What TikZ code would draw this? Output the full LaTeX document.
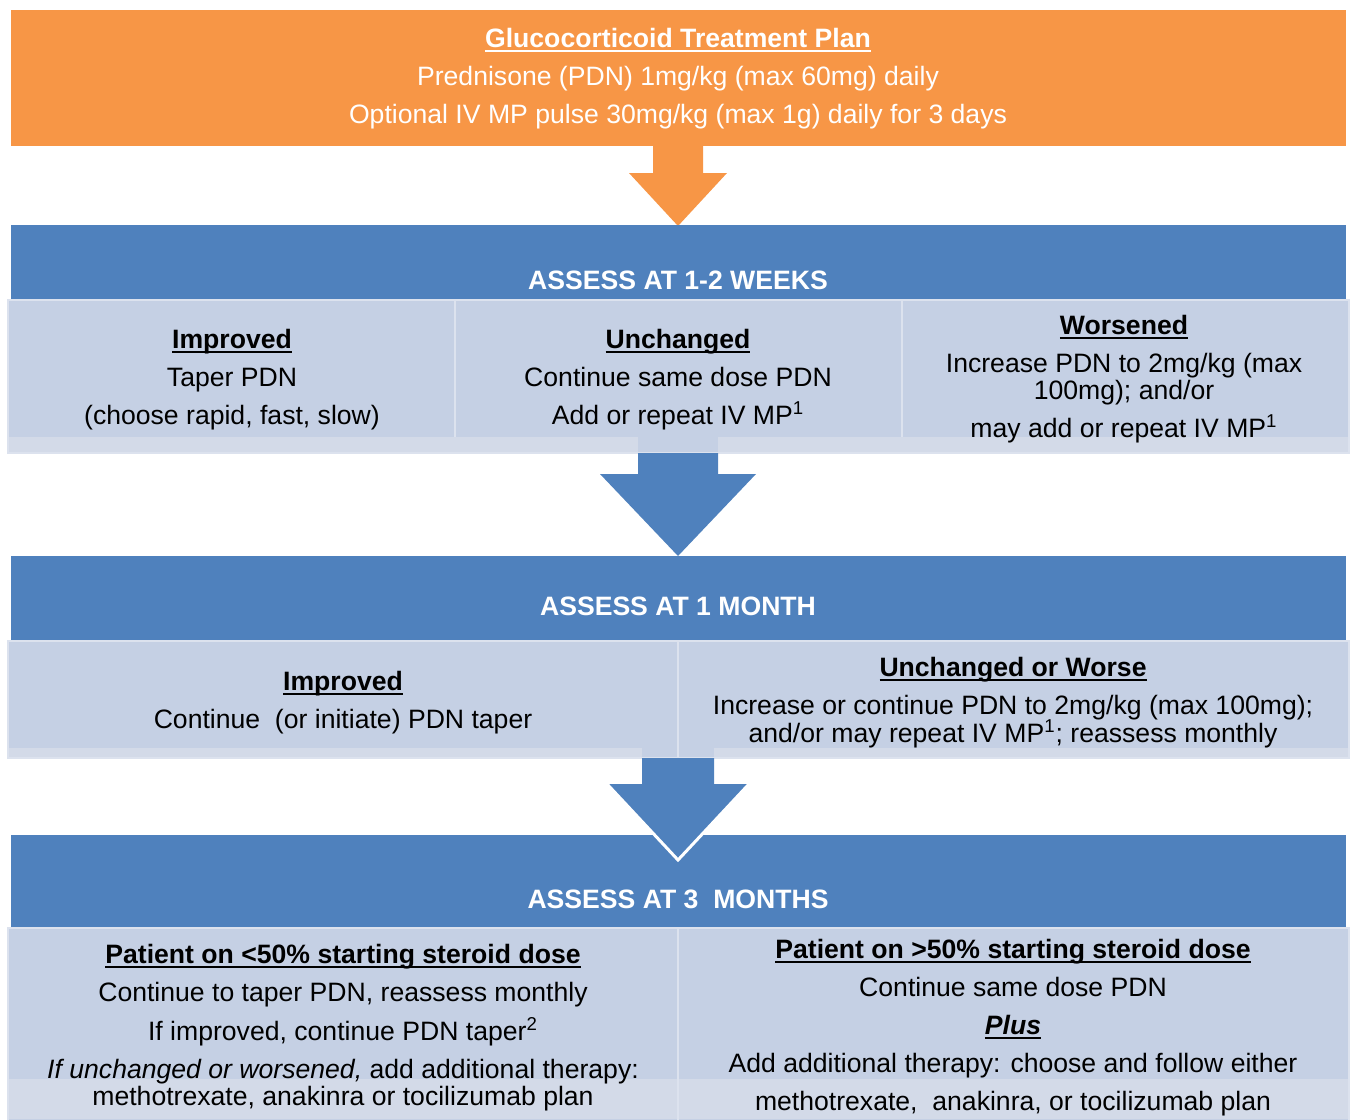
\documentclass[tikz,border=0pt]{standalone}
\usepackage{fontspec}
\setmainfont{Liberation Sans}

\definecolor{planorange}{HTML}{F79646}
\definecolor{bandblue}{HTML}{4F81BD}
\definecolor{cellblue}{HTML}{C5D0E4}
\definecolor{stripblue}{HTML}{D3DAE8}
\definecolor{cellline}{HTML}{DCE2EE}

\newcommand\cellfont{\fontsize{13.3pt}{19pt}\selectfont}
\newsavebox\headbox
\newcommand\ulhead[1]{\sbox\headbox{\textbf{#1}}\rlap{\rule[-2.2pt]{\wd\headbox}{0.9pt}}\usebox\headbox}

\tikzset{
  band/.style={fill=bandblue},
  cellbox/.style={fill=cellblue, draw=cellline, line width=0.75pt},
  strip/.style={fill=stripblue},
  celltext/.style={anchor=north, inner sep=0pt, align=center, font=\cellfont},
  bandtext/.style={inner sep=0pt, text=white, font=\bfseries\cellfont},
}

\begin{document}
\begin{tikzpicture}[x=0.5pt, y=-0.5pt]
\useasboundingbox (0,0) rectangle (1352,1119);

% treatment plan
\fill[planorange] (11,10) rectangle (1346,146);
\node[celltext, text=white] (plan) at (678,28) {\ulhead{Glucocorticoid Treatment Plan}\\
  Prednisone (PDN) 1mg/kg (max 60mg) daily\\
  Optional IV MP pulse 30mg/kg (max 1g) daily for 3 days};
\fill[planorange] (653,146) -- (703,146) -- (703,173) -- (727,173) -- (678,226) -- (629,173) -- (653,173) -- cycle;

% 1-2 weeks
\fill[band] (11,225) rectangle (1346,300);
\node[bandtext] (weeks) at (678,280) {ASSESS AT 1-2 WEEKS};
\draw[cellbox] (8,300) rectangle (455,453);
\draw[cellbox] (455,300) rectangle (902,453);
\draw[cellbox] (902,300) rectangle (1349,453);
\fill[strip] (9,437) rectangle (638,452);
\fill[strip] (718,437) rectangle (1348,452);
\node[celltext] (wkimp) at (232,329) {\ulhead{Improved}\\ Taper PDN\\ (choose rapid, fast, slow)};
\node[celltext] (wkunch) at (678,329) {\ulhead{Unchanged}\\ Continue same dose PDN\\ Add or repeat IV MP\textsuperscript{1}};
\node[celltext] (wkworse) at (1124,315) {\ulhead{Worsened}\\ Increase PDN to 2mg/kg (max\\[-5.5pt]
  100mg); and/or\\ may add or repeat IV MP\textsuperscript{1}};
\fill[band] (638,453) -- (718,453) -- (718,474) -- (756,474) -- (678,556) -- (600,474) -- (638,474) -- cycle;

% 1 month
\fill[band] (11,556) rectangle (1346,641);
\node[bandtext] (month) at (678,606) {ASSESS AT 1 MONTH};
\draw[cellbox] (8,641) rectangle (678,758);
\draw[cellbox] (678,641) rectangle (1349,758);
\fill[strip] (9,748) rectangle (642,757);
\fill[strip] (714,748) rectangle (1348,757);
\node[celltext] (mimp) at (343,671) {\ulhead{Improved}\\ Continue~~(or initiate) PDN taper};
\node[celltext] (mworse) at (1013,657) {\ulhead{Unchanged or Worse}\\
  Increase or continue PDN to 2mg/kg (max 100mg);\\[-5pt]
  and/or may repeat IV MP\textsuperscript{1}; reassess monthly};

% 3 months
\fill[band] (11,835) rectangle (1346,928);
\fill[band] (642,758) -- (714,758) -- (714,784) -- (749,784) -- (678,860) -- (607,784) -- (642,784) -- cycle;
\draw[white, line width=1.5pt] (749,784) -- (678,860) -- (607,784);
\node[bandtext] (months) at (678,899) {ASSESS AT 3~~MONTHS};
\draw[cellbox] (8,928) rectangle (678,1125);
\draw[cellbox] (678,928) rectangle (1349,1125);
\fill[strip] (9,1079) rectangle (677,1119);
\fill[strip] (679,1079) rectangle (1348,1119);
\node[celltext] (lowdose) at (343,944) {\ulhead{Patient on <50\% starting steroid dose}\\
  Continue to taper PDN, reassess monthly\\[0.5pt]
  If improved, continue PDN taper\textsuperscript{2}\\
  \textit{If unchanged or worsened,} add additional therapy:\\[-5.5pt]
  methotrexate, anakinra or tocilizumab plan};
\node[celltext] (highdose) at (1013,939) {\ulhead{Patient on >50\% starting steroid dose}\\
  Continue same dose PDN\\
  \ulhead{\textit{Plus}}\\
  Add additional therapy: choose and follow either\\
  methotrexate,~~anakinra, or tocilizumab plan};
\end{tikzpicture}
\end{document}
